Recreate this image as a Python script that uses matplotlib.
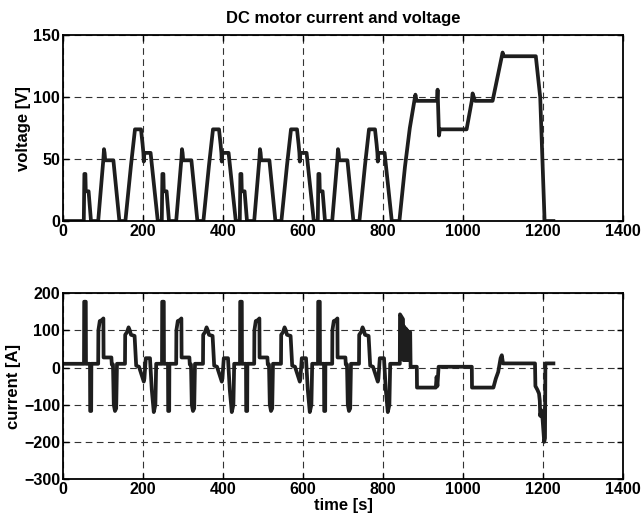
import numpy as np
import matplotlib
matplotlib.use('Agg')
import matplotlib.pyplot as plt

# voltage [V] - four urban cycles followed by the extra-urban part
volt_t_c1 = [0, 52, 53.5, 56, 57, 64, 70, 88, 101, 102.5, 104, 105.5, 126, 141, 156, 170, 180, 195, 199, 201, 202, 203.5, 219, 237]
volt_v_c1 = [0, 0, 38, 38, 24, 24, 0, 0, 50, 58, 55, 49, 49, 0, 0, 45, 74, 74, 62, 55, 48, 55, 55, 0]
volt_t_c2 = [247, 248.5, 251, 252, 259, 265, 283, 296, 297.5, 299, 300.5, 321, 336, 351, 365, 375, 390, 394, 396, 397, 398.5, 414, 432]
volt_v_c2 = [0, 38, 38, 24, 24, 0, 0, 50, 58, 55, 49, 49, 0, 0, 45, 74, 74, 62, 55, 48, 55, 55, 0]
volt_t_c3 = [442, 443.5, 446, 447, 454, 460, 478, 491, 492.5, 494, 495.5, 516, 531, 546, 560, 570, 585, 589, 591, 592, 593.5, 609, 627]
volt_v_c3 = [0, 38, 38, 24, 24, 0, 0, 50, 58, 55, 49, 49, 0, 0, 45, 74, 74, 62, 55, 48, 55, 55, 0]
volt_t_c4 = [637, 638.5, 641, 642, 649, 655, 673, 686, 687.5, 689, 690.5, 711, 726, 741, 755, 765, 780, 784, 786, 787, 788.5, 804, 822]
volt_v_c4 = [0, 38, 38, 24, 24, 0, 0, 50, 58, 55, 49, 49, 0, 0, 45, 74, 74, 62, 55, 48, 55, 55, 0]
volt_t_eu = [841, 855, 867, 881, 884, 935, 936.5, 940, 942, 1009, 1022, 1024, 1030, 1074, 1099, 1102, 1182, 1193, 1204, 1226]
volt_v_eu = [0, 44, 75, 102, 97, 97, 106, 69, 74, 74, 97, 103, 97, 97, 136, 133, 133, 100, 0, 0]

# current [A]
cur_t_c1 = [0, 52.5, 53, 57, 57.5, 67.5, 68, 70.5, 71, 88, 88.5, 92, 98, 101, 101.5, 121, 122, 125, 127, 130, 133, 135,
            155, 155.5, 160, 164, 167, 170, 179, 183, 190, 202, 203.5, 207, 217.5, 222, 227, 231, 233]
cur_a_c1 = [10, 10, 177, 177, 10, 10, -117, -117, 10, 10, 100, 125, 128, 132, 27, 27, 8, 8, -100, -117, -110, 10,
            10, 88, 95, 108, 100, 88, 85, 5, 2, -38, -30, 25, 25, -60, -120, -100, 10]
cur_t_c2 = [247.5, 248, 252, 252.5, 262.5, 263, 265.5, 266, 283, 283.5, 287, 293, 296, 296.5, 316, 317, 320, 322, 325, 328, 330,
            350, 350.5, 355, 359, 362, 365, 374, 378, 385, 397, 398.5, 402, 412.5, 417, 422, 426, 428]
cur_t_c3 = [442.5, 443, 447, 447.5, 457.5, 458, 460.5, 461, 478, 478.5, 482, 488, 491, 491.5, 511, 512, 515, 517, 520, 523, 525,
            545, 545.5, 550, 554, 557, 560, 569, 573, 580, 592, 593.5, 597, 607.5, 612, 617, 621, 623]
cur_t_c4 = [637.5, 638, 642, 642.5, 652.5, 653, 655.5, 656, 673, 673.5, 677, 683, 686, 686.5, 706, 707, 710, 712, 715, 718, 720,
            740, 740.5, 745, 749, 752, 755, 764, 768, 775, 787, 788.5, 792, 802.5, 807, 812, 816, 818]
cur_a_cyc = [10, 177, 177, 10, 10, -117, -117, 10, 10, 100, 125, 128, 132, 27, 27, 8, 8, -100, -117, -110, 10,
             10, 88, 95, 108, 100, 88, 85, 5, 2, -38, -30, 25, 25, -60, -120, -100, 10]
cur_t_eu = [842, 842.5, 850, 851, 853, 855, 857, 859, 861, 863, 866, 868, 869, 884.5, 885, 932, 934, 936, 939,
            1022, 1022.5, 1076, 1082, 1088, 1094, 1097, 1100, 1180, 1181, 1186, 1190, 1192, 1193, 1196, 1199,
            1203, 1205, 1206, 1226]
cur_a_eu = [10, 143, 130, 20, 110, 20, 105, 20, 100, 20, 95, 95, 2, 2, -54, -54, -25, -50, 2,
            2, -54, -54, -30, -12, 25, 33, 11, 11, -50, -60, -70, -90, -130, -115, -140,
            -200, -190, 11, 11]

volt_t = volt_t_c1 + volt_t_c2 + volt_t_c3 + volt_t_c4 + volt_t_eu
volt_v = volt_v_c1 + volt_v_c2 + volt_v_c3 + volt_v_c4 + volt_v_eu
cur_t = cur_t_c1 + cur_t_c2 + cur_t_c3 + cur_t_c4 + cur_t_eu
cur_a = cur_a_c1 + cur_a_cyc + cur_a_cyc + cur_a_cyc + cur_a_eu

plt.rcParams['font.family'] = ['Liberation Sans', 'DejaVu Sans']
plt.rcParams['font.weight'] = 'bold'

line_col = '#1e1e1e'
grid_kw = dict(color='#333333', linestyle=(0, (6, 4)), linewidth=0.8)

fig = plt.figure(figsize=(6.44, 5.25), dpi=100)
ax1 = fig.add_axes([0.0978, 0.579, 0.8696, 0.354])
ax2 = fig.add_axes([0.0978, 0.0876, 0.8696, 0.354])

ax1.plot(volt_t, volt_v, color=line_col, linewidth=2.7, solid_joinstyle='round')
ax1.set_xlim(0, 1400)
ax1.set_ylim(0, 150)
ax1.set_xticks(range(0, 1401, 200))
ax1.set_yticks([0, 50, 100, 150])
ax1.set_ylabel('voltage [V]', fontsize=12, fontweight='bold', labelpad=2)
ax1.set_title('DC motor current and voltage', fontsize=12, fontweight='bold', pad=9)

ax2.plot(cur_t, cur_a, color=line_col, linewidth=2.7, solid_joinstyle='round')
ax2.set_xlim(0, 1400)
ax2.set_ylim(-300, 200)
ax2.set_xticks(range(0, 1401, 200))
ax2.set_yticks(range(-300, 201, 100))
ax2.set_ylabel('current [A]', fontsize=12, fontweight='bold', labelpad=2)
ax2.set_xlabel('time [s]', fontsize=12, fontweight='bold', labelpad=1)

for ax in (ax1, ax2):
    ax.grid(True, **grid_kw)
    ax.tick_params(direction='in', length=4, width=1, labelsize=11.5, pad=2, top=True, right=True)
    for lab in ax.get_xticklabels() + ax.get_yticklabels():
        lab.set_fontweight('bold')
    for sp in ax.spines.values():
        sp.set_linewidth(1.3)

plt.savefig('out.png', dpi=100)
